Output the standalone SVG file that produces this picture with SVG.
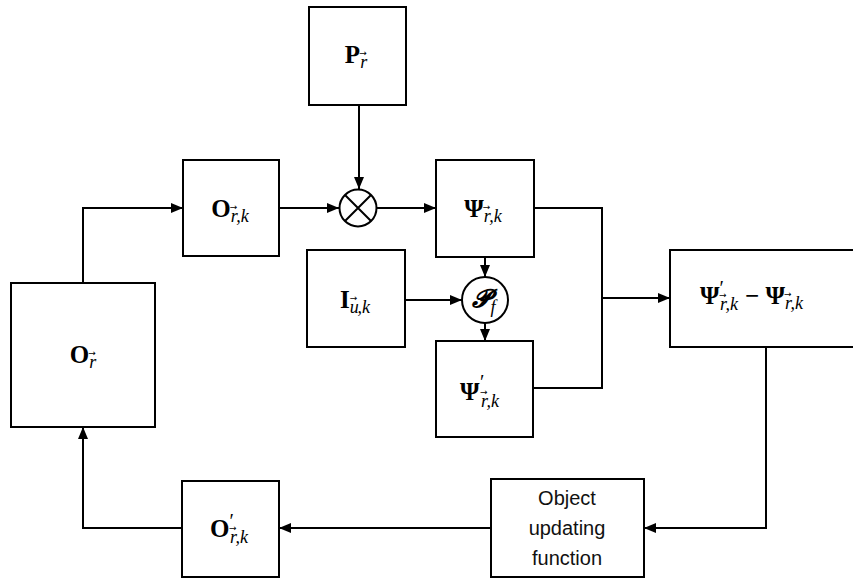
<svg xmlns="http://www.w3.org/2000/svg" width="853" height="579" viewBox="0 0 853 579">
<defs>
<marker id="ah" markerUnits="userSpaceOnUse" markerWidth="13" markerHeight="11" refX="12" refY="5" orient="auto">
<path d="M0,0 L12,5 L0,10 z" fill="#000"/>
</marker>
<style>
.box{fill:#fff;stroke:#000;stroke-width:2}
.ln{fill:none;stroke:#000;stroke-width:2}
.m{font-family:"Liberation Serif","DejaVu Serif",serif;font-weight:bold;font-size:25px;fill:#000}
.s{font-family:"Liberation Serif","DejaVu Serif",serif;font-style:italic;font-weight:normal;font-size:18px}
.v{font-family:"DejaVu Sans",sans-serif;font-style:normal;font-weight:normal;font-size:9px}
.p{font-family:"Liberation Serif",serif;font-style:normal;font-weight:normal;font-size:20px}
.t{font-family:"Liberation Sans",Arial,sans-serif;font-size:20px;fill:#111}
</style>
</defs>
<rect width="853" height="579" fill="#fff"/>
<g id="connectors">
<line class="ln" x1="359" y1="105" x2="359" y2="189" marker-end="url(#ah)"/>
<line class="ln" x1="279" y1="208" x2="339" y2="208" marker-end="url(#ah)"/>
<line class="ln" x1="377" y1="208" x2="436" y2="208" marker-end="url(#ah)"/>
<line class="ln" x1="485" y1="257" x2="485" y2="277" marker-end="url(#ah)"/>
<line class="ln" x1="405" y1="300" x2="462" y2="300" marker-end="url(#ah)"/>
<line class="ln" x1="485" y1="323" x2="485" y2="341" marker-end="url(#ah)"/>
<polyline class="ln" points="534,208 602,208 602,388 533,388"/>
<line class="ln" x1="602" y1="298" x2="670" y2="298" marker-end="url(#ah)"/>
<polyline class="ln" points="766,347 766,528 644,528" marker-end="url(#ah)"/>
<line class="ln" x1="491" y1="528" x2="279" y2="528" marker-end="url(#ah)"/>
<polyline class="ln" points="182,528 83,528 83,427" marker-end="url(#ah)"/>
<polyline class="ln" points="83,283 83,208 183,208" marker-end="url(#ah)"/>
</g>
<g id="P">
<rect class="box" x="309" y="7" width="97" height="98"/>
<text class="m" x="356" y="63" text-anchor="middle">P<tspan class="s" dy="5">r</tspan><tspan class="v" dx="-8" dy="-12">→</tspan><tspan dy="12"> </tspan></text>
</g>
<g id="Ork">
<rect class="box" x="183" y="160" width="96" height="96"/>
<text class="m" x="230" y="217" text-anchor="middle">O<tspan class="s" dy="5">r</tspan><tspan class="v" dx="-8" dy="-12">→</tspan><tspan class="s" dx="-1" dy="12">,k</tspan></text>
</g>
<g id="mult">
<circle class="box" cx="358" cy="208" r="18.5"/>
<path class="ln" d="M345,195 L371,221 M371,195 L345,221"/>
</g>
<g id="Psi">
<rect class="box" x="436" y="160" width="98" height="97"/>
<text class="m" x="483" y="217" text-anchor="middle">Ψ<tspan class="s" dy="5">r</tspan><tspan class="v" dx="-8" dy="-12">→</tspan><tspan class="s" dx="-1" dy="12">,k</tspan></text>
</g>
<g id="I">
<rect class="box" x="307" y="250" width="98" height="97"/>
<text class="m" x="355" y="308" text-anchor="middle">I<tspan class="s" dy="5">u</tspan><tspan class="v" dx="-9" dy="-12">→</tspan><tspan class="s" dy="12">,k</tspan></text>
</g>
<g id="Pf">
<circle class="box" cx="485" cy="300" r="23"/>
<text class="m" x="484" y="307" text-anchor="middle" font-style="italic">𝓟<tspan class="s" dy="6">f</tspan></text>
</g>
<g id="PsiPrime">
<rect class="box" x="436" y="341" width="97" height="96"/>
<text class="m" x="460" y="400">Ψ</text>
<text class="p" x="480" y="389">′</text>
<text class="m" x="480" y="407"><tspan class="s">r</tspan><tspan class="v" dx="-8" dy="-12">→</tspan><tspan class="s" dx="-1" dy="12">,k</tspan></text>
</g>
<g id="Diff">
<rect class="box" x="670" y="250" width="190" height="97"/>
<text class="m" x="700" y="304">Ψ<tspan class="p" dy="-9">′</tspan></text>
<text class="m" x="719" y="310"><tspan class="s">r</tspan><tspan class="v" dx="-8" dy="-12">→</tspan><tspan class="s" dx="-1" dy="12">,k</tspan></text>
<text class="m" x="745" y="304">− Ψ<tspan class="s" dy="5">r</tspan><tspan class="v" dx="-8" dy="-12">→</tspan><tspan class="s" dx="-1" dy="12">,k</tspan></text>
</g>
<g id="Or">
<rect class="box" x="11" y="283" width="144" height="144"/>
<text class="m" x="83" y="363" text-anchor="middle">O<tspan class="s" dy="5">r</tspan><tspan class="v" dx="-8" dy="-12">→</tspan><tspan dy="12"> </tspan></text>
</g>
<g id="OPrime">
<rect class="box" x="182" y="481" width="97" height="96"/>
<text class="m" x="210" y="537">O<tspan class="p" dy="-9">′</tspan></text>
<text class="m" x="229" y="543"><tspan class="s">r</tspan><tspan class="v" dx="-8" dy="-12">→</tspan><tspan class="s" dx="-1" dy="12">,k</tspan></text>
</g>
<g id="Update">
<rect class="box" x="491" y="479" width="153" height="98"/>
<text class="t" x="567" y="505" text-anchor="middle">Object</text>
<text class="t" x="567" y="535" text-anchor="middle">updating</text>
<text class="t" x="567" y="565" text-anchor="middle">function</text>
</g>
</svg>
